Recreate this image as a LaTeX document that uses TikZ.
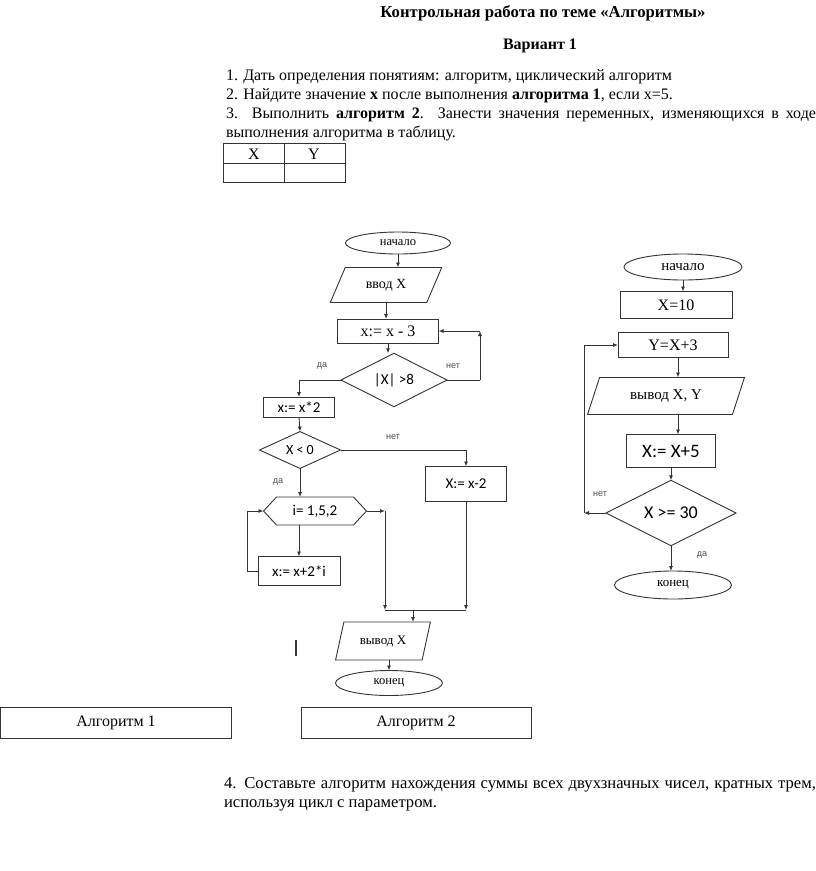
\documentclass[tikz,border=0pt]{standalone}
\usepackage{fontspec}
\setmainfont{Liberation Serif}
\newfontfamily\fcsans{Carlito}
\newfontfamily\lblsans{Liberation Sans}
\usetikzlibrary{shapes.geometric,arrows.meta}
\begin{document}
\begin{tikzpicture}[x=1pt,y=-1pt,
 every node/.style={inner sep=0pt, outer sep=0pt},
 body/.style={font=\fontsize{16}{18}\selectfont, anchor=base west},
 fc/.style={draw=black!80, line width=0.9pt},
 term/.style={fc, ellipse},
 proc/.style={fc, rectangle},
 io/.style={fc, trapezium, trapezium stretches=true},
 dec/.style={fc, diamond},
 arr/.style={draw=black!80, line width=0.9pt, -{Latex[length=5pt,width=4pt]}},
 ln/.style={draw=black!80, line width=0.9pt},
 lbl/.style={font=\lblsans\fontsize{9}{10}\selectfont, text=black!70},
 ser/.style={font=\fontsize{#1}{#1}\selectfont},
 sans/.style={font=\fcsans\fontsize{#1}{#1}\selectfont},
]
\useasboundingbox[fill=white] (0,0) rectangle (816,871);

% header text
\node[font=\bfseries\fontsize{16.7}{18}\selectfont, anchor=base] (title) at (543,17) {Контрольная работа по теме «Алгоритмы»};
\node[font=\bfseries\fontsize{16}{18}\selectfont, anchor=base] (var) at (540,49) {Вариант 1};
\node[body] (t1) at (226,80) {1. Дать определения понятиям: алгоритм, циклический алгоритм};
\node[body] (t2) at (226,99) {2. Найдите значение \textbf{x} после выполнения \textbf{алгоритма 1}, если x=5.};
\node[body] (t3) at (226,118) {\makebox[590pt][s]{3. Выполнить \textbf{алгоритм 2}. Занести значения переменных, изменяющихся в ходе}};
\node[body] (t4) at (226,137) {выполнения алгоритма в таблицу.};

% table
\draw[line width=0.8pt, black!80] (223,143) rectangle (345,182);
\draw[line width=0.8pt, black!80] (223,163) -- (345,163) (284,143) -- (284,182);
\node[ser=16] (tx) at (254,154) {X};
\node[ser=16] (ty) at (314,154) {Y};

% ---------- Algorithm 1 ----------
\node[term, minimum width=105, minimum height=22, ser=12.5] (s1) at (398,243) {начало};
\node[io, minimum width=112, minimum height=35, trapezium left angle=58, trapezium right angle=122, ser=14] (in1) at (386,285) {ввод X};
\node[proc, minimum width=101, minimum height=24, ser=16] (r1) at (388,331) {x:= x - 3};
\node[dec, minimum width=106, minimum height=37, sans=15] (d1) at (394,380) {|X| >8};
\node[proc, minimum width=71, minimum height=20, sans=15] (r2) at (299,407) {x:= x*2};
\node[dec, minimum width=81, minimum height=35, sans=14] (d2) at (300,450) {X < 0};
\node[proc, minimum width=81, minimum height=35, sans=15] (r3) at (466,484) {X:= x-2};
\node[minimum width=103, minimum height=28, sans=15] (h1) at (315,511) {i= 1,5,2};
\draw[fc] (h1.west) -- ([xshift=13]h1.north west) -- ([xshift=-13]h1.north east) -- (h1.east) -- ([xshift=-13]h1.south east) -- ([xshift=13]h1.south west) -- cycle;
\node[proc, minimum width=82, minimum height=29, sans=15] (r4) at (299,571) {x:= x+2*i};
\node[io, minimum width=95, minimum height=38, trapezium left angle=66, trapezium right angle=114, ser=13] (o1) at (383,641) {вывод X};
\node[term, minimum width=107, minimum height=25, ser=12.5] (e1) at (389,683) {конец};

\coordinate (c1) at (480,380);
\coordinate (c2) at (480,331);
\coordinate (c3) at (247,571);
\coordinate (c4) at (385,511);
\coordinate (c5) at (385,610);
\coordinate (c6) at (466,610);
\coordinate (c7) at (413,610);

\draw[arr] (s1.south) -- (s1.south |- in1.north);
\draw[arr] (in1.south) -- (in1.south |- r1.north);
\draw[arr] (r1.south) -- (r1.south |- d1.north);
\draw[ln] (d1.east) -- (c1);
\draw[arr] (c1) -- (c2);
\draw[arr] (c2) -- (r1.east);
\draw[arr] (d1.west) -| (r2.north);
\draw[arr] (r2.south) -- (d2.north);
\draw[arr] (d2.east) -| (r3.north);
\draw[arr] (d2.south) -- (d2.south |- h1.north);
\draw[arr] (r4.north |- h1.south) -- (r4.north);
\draw[ln] (r4.west) -- (c3);
\draw[arr] (c3) |- (h1.west);
\draw[arr] (h1.east) -- (c4);
\draw[arr] (c4) -- (c5);
\draw[arr] (r3.south) -- (c6);
\draw[ln] (c5) -- (c6);
\draw[arr] (c7) -- (c7 |- o1.north);
\draw[arr] (e1.north |- o1.south) -- (e1.north);

\node[lbl] (l1) at (322,366) {да};
\node[lbl] (l2) at (453,366) {нет};
\node[lbl] (l3) at (393,437) {нет};
\node[lbl] (l4) at (278,482) {да};

\draw[line width=1.3pt, black!80] (296,640) -- (296,656);

% ---------- Algorithm 2 ----------
\node[term, minimum width=118, minimum height=26, ser=15] (s2) at (683,267) {начало};
\node[proc, minimum width=112, minimum height=27, ser=16] (r5) at (676,305) {X=10};
\node[proc, minimum width=110, minimum height=25, ser=16] (r6) at (673,345) {Y=X+3};
\node[io, minimum width=157, minimum height=37, trapezium left angle=63, trapezium right angle=117, ser=15] (o2) at (666,396) {вывод X, Y};
\node[proc, minimum width=89, minimum height=33, sans=19] (r7) at (671,451) {X:= X+5};
\node[dec, minimum width=130, minimum height=63, sans=18] (d3) at (671,513) {X >= 30};
\node[term, minimum width=117, minimum height=28, ser=13] (e2) at (673,585) {конец};

\coordinate (c8) at (584,513);
\coordinate (c9) at (678,360);

\draw[arr] (s2.south) -- (s2.south |- r5.north);
\draw[arr] (c9 |- r6.south) -- (c9 |- o2.north);
\draw[arr] (c9 |- o2.south) -- (c9 |- r7.north);
\draw[arr] (r7.south) -- (d3.north);
\draw[arr] (d3.west) -- (c8);
\draw[arr] (c8) |- (r6.west);
\draw[arr] (d3.south) -- (d3.south |- e2.north);

\node[lbl] (l5) at (600,494) {нет};
\node[lbl] (l6) at (702,555) {да};

% ---------- bottom ----------
\node[draw=black!80, line width=0.9pt, minimum width=231, minimum height=31, ser=16] (b1) at (116,722.5) {Алгоритм 1};
\node[draw=black!80, line width=0.9pt, minimum width=230, minimum height=31, ser=16] (b2) at (416,722.5) {Алгоритм 2};

\node[body, font=\fontsize{16.6}{18}\selectfont] (t5) at (224,788) {\makebox[592pt][s]{4. Составьте алгоритм нахождения суммы всех двухзначных чисел, кратных трем,}};
\node[body, font=\fontsize{16.6}{18}\selectfont] (t6) at (224,807) {используя цикл с параметром.};
\end{tikzpicture}
\end{document}
